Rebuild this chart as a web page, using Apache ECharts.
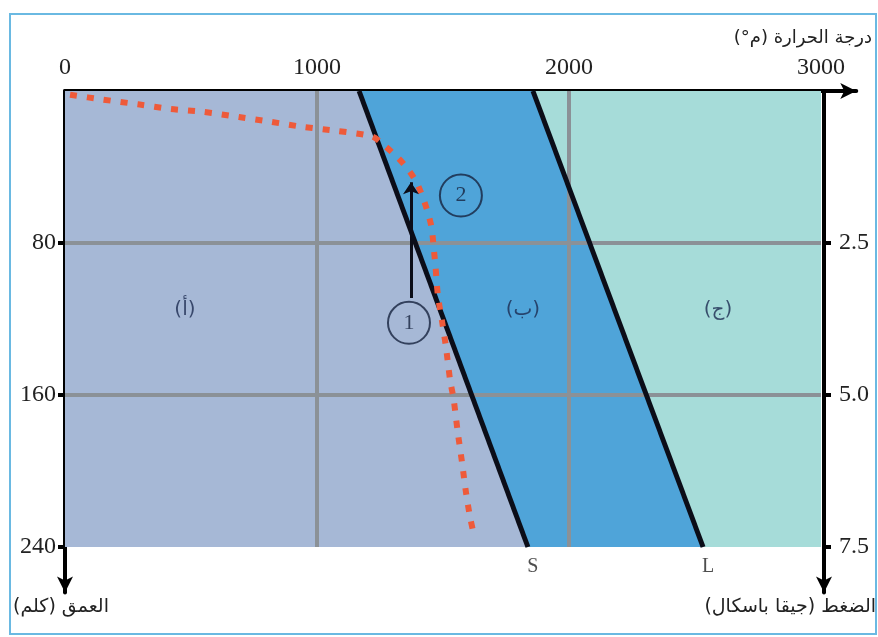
<!DOCTYPE html>
<html><head><meta charset="utf-8">
<script src="https://cdn.jsdelivr.net/npm/echarts@6/dist/echarts.min.js"></script>
<style>html,body{margin:0;padding:0;background:#fff}#c{width:878px;height:637px}</style>
</head><body><div id="c"></div>
<script>
// ---- data ----
const tempTicks = [0, 1000, 2000, 3000];
const depthTicks = [80, 160, 240];
const pressureTicks = [2.5, 5.0, 7.5];
const gridTemps = [1000, 2000];
const gridDepths = [80, 160];
const solidus = [[1167, 0], [1837, 240]];
const liquidus = [[1857, 0], [2532, 240]];
const geotherm = [[20,2],[150,4.5],[290,7],[420,9.5],[550,11],[690,13.7],[820,16.3],[950,19],[1080,21],[1220,24],[1270,29],[1320,35],[1360,41],[1395,48],[1420,56],[1440,64],[1455,72],[1462,81],[1470,92],[1480,108],[1496,121],[1512,135],[1528,152],[1542,162],[1558,179],[1576,196],[1592,212],[1607,224],[1620,232]];
const regionNames = ['(أ)', '(ب)', '(ج)'];
const regionAnchors = [[476, 115], [1817, 115], [2591, 115]];
const stepNames = ['1', '2'];
const stepAnchors = [[1365, 122], [1571, 55]];
const arrowPath = [[1373, 109], [1373, 48]];
const lineNames = ['S', 'L'];
const T_MAX = 3000, D_MAX = 240;
const X_END = 3140, Y_END = 264, P_PER_KM = 2.5 / 80;
const tempTitle = 'درجة الحرارة (م°)';
const depthTitle = 'العمق (كلم)';
const pressTitle = 'الضغط (جيقا باسكال)';

const rtl = s => '\u202B' + s + '\u202C';
const serif = 'Liberation Serif';
const arab = 'DejaVu Sans';

const regionA = [[0, 0], ...solidus, [0, D_MAX]];
const regionB = [...solidus, ...liquidus.slice().reverse()];
const regionC = [...liquidus, [T_MAX, D_MAX], [T_MAX, 0]];
const regions = [regionA, regionB, regionC];
const regionColors = ['#a6b8d6', '#4fa4d9', '#a6dcd9'];

const chart = echarts.init(document.getElementById('c'), null, {renderer: 'canvas'});
const gridW = X_END * 0.252, gridH = Y_END * 1.9;
chart.setOption({
  animation: false,
  backgroundColor: '#ffffff',
  grid: {left: 65, top: 91, width: gridW, height: gridH},
  xAxis: {
    type: 'value', position: 'top', min: 0, max: X_END, interval: 1000,
    axisLine: {show: true, lineStyle: {color: '#000', width: 4}, symbol: ['none', 'arrow'], symbolSize: [12, 16]},
    axisTick: {show: false},
    axisLabel: {customValues: tempTicks, formatter: v => String(v), fontFamily: serif, fontSize: 24, color: '#222', margin: 11},
    splitLine: {show: false}
  },
  yAxis: [{
    type: 'value', position: 'left', inverse: true, min: 0, max: Y_END, interval: 80,
    axisLine: {show: true, lineStyle: {color: '#000', width: 4}, symbol: ['arrow', 'none'], symbolSize: [12, 16]},
    axisTick: {show: true, customValues: depthTicks, length: 7, lineStyle: {color: '#000', width: 4}},
    axisLabel: {customValues: depthTicks, formatter: v => String(v), fontFamily: serif, fontSize: 24, color: '#222', margin: 9},
    splitLine: {show: false}
  }, {
    type: 'value', position: 'right', offset: -(X_END - T_MAX) * 0.252 + 3, inverse: true, min: 0, max: Y_END * P_PER_KM, interval: 2.5,
    axisLine: {show: true, lineStyle: {color: '#000', width: 4}, symbol: ['arrow', 'none'], symbolSize: [12, 16]},
    axisTick: {show: true, customValues: pressureTicks, length: 7, lineStyle: {color: '#000', width: 4}},
    axisLabel: {customValues: pressureTicks, formatter: v => v.toFixed(1), fontFamily: serif, fontSize: 24, color: '#222', margin: 15},
    splitLine: {show: false}
  }],
  graphic: [
    {type: 'rect', shape: {x: 10, y: 14, width: 866, height: 620}, style: {fill: 'none', stroke: '#6ab9e2', lineWidth: 2}, z: 100},
    {type: 'text', right: 6, top: 29, style: {text: rtl(tempTitle), font: '18px "DejaVu Sans"', fill: '#222'}},
    {type: 'text', left: 13, top: 598, style: {text: rtl(depthTitle), font: '19px "DejaVu Sans"', fill: '#222'}},
    {type: 'text', right: 2, top: 598, style: {text: rtl(pressTitle), font: '19px "DejaVu Sans"', fill: '#222'}}
  ],
  series: [
    {
      type: 'custom', name: 'regions', z: 1, silent: true,
      data: [0],
      renderItem: (params, api) => ({
        type: 'group',
        children: regions.map((poly, i) => ({
          type: 'polygon',
          shape: {points: poly.map(p => api.coord(p))},
          style: {fill: regionColors[i], stroke: null}
        }))
      })
    },
    {
      type: 'custom', name: 'grid', z: 2, silent: true,
      data: [0],
      renderItem: (params, api) => ({
        type: 'group',
        children: [
          ...gridTemps.map(t => {
            const a = api.coord([t, 0]), b = api.coord([t, D_MAX]);
            return {type: 'line', shape: {x1: a[0], y1: a[1], x2: b[0], y2: b[1]}, style: {stroke: '#8b9197', lineWidth: 4}};
          }),
          ...gridDepths.map(d => {
            const a = api.coord([0, d]), b = api.coord([T_MAX, d]);
            return {type: 'line', shape: {x1: a[0], y1: a[1], x2: b[0], y2: b[1]}, style: {stroke: '#8b9197', lineWidth: 4}};
          })
        ]
      })
    },
    {type: 'line', name: 'S', z: 4, data: solidus, showSymbol: false, lineStyle: {color: '#0b0d18', width: 5}},
    {type: 'line', name: 'L', z: 4, data: liquidus, showSymbol: false, lineStyle: {color: '#0b0d18', width: 5}},
    {type: 'line', name: 'geotherm', z: 5, data: geotherm, showSymbol: false, smooth: 0.25,
      lineStyle: {color: '#ee5a3a', width: 6, type: [7, 10], cap: 'butt'}},
    {type: 'lines', coordinateSystem: 'cartesian2d', z: 6, polyline: false,
      data: [{coords: arrowPath}], symbol: ['none', 'arrow'], symbolSize: 12,
      lineStyle: {color: '#0b0d18', width: 3, opacity: 1}},
    {type: 'scatter', z: 6, data: stepAnchors.map((p, i) => ({value: p, name: stepNames[i]})),
      symbol: 'circle', symbolSize: 42,
      itemStyle: {color: 'rgba(0,0,0,0)', borderColor: '#17233f', borderWidth: 2},
      label: {show: true, position: 'inside', formatter: p => p.name, fontFamily: serif, fontSize: 22, color: '#17233f'}},
    {type: 'scatter', z: 6, data: regionAnchors.map((p, i) => ({value: p, name: regionNames[i]})),
      symbolSize: 1, itemStyle: {color: 'rgba(0,0,0,0)'},
      label: {show: true, position: 'inside', formatter: p => rtl(p.name), fontFamily: arab, fontSize: 20, color: '#1b2a50'}},
    {type: 'scatter', z: 6, data: [solidus[solidus.length - 1], liquidus[liquidus.length - 1]].map((p, i) => ({value: p, name: lineNames[i]})),
      symbolSize: 1, itemStyle: {color: 'rgba(0,0,0,0)'},
      label: {show: true, position: 'bottom', distance: 9, offset: [5, 0], formatter: p => p.name, fontFamily: serif, fontSize: 20, color: '#222'}}
  ]
});
</script></body></html>
